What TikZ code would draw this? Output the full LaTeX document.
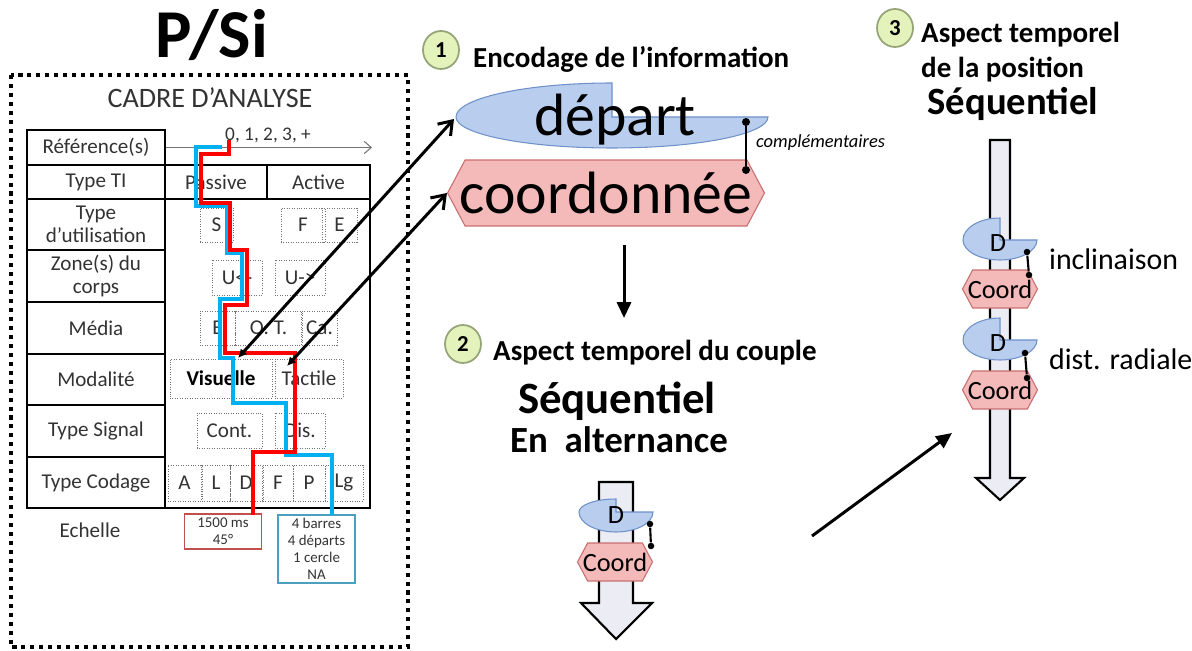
\documentclass[tikz,border=0pt]{standalone}
\usepackage{fontspec}
\setmainfont{Carlito}
\usetikzlibrary{arrows.meta,shapes.geometric,shapes.symbols}
\definecolor{psired}{RGB}{255,0,0}
\definecolor{psiblue}{RGB}{0,176,240}
\definecolor{depblue}{RGB}{185,205,238}
\definecolor{depedge}{RGB}{110,145,200}
\definecolor{coopink}{RGB}{244,185,185}
\definecolor{cooedge}{RGB}{200,110,110}
\definecolor{badgegreen}{RGB}{228,242,188}
\definecolor{badgeedge}{RGB}{150,165,120}
\definecolor{echred}{RGB}{192,80,77}
\definecolor{echblue}{RGB}{75,160,190}
\definecolor{flowgray}{RGB}{236,236,244}

\begin{document}
\begin{tikzpicture}[x=0.02cm, y=-0.02cm, every node/.style={font=\fontsize{12}{13}\selectfont, text=black!80}]
  \tikzset{
    cell/.style={draw=black, line width=1.1pt, minimum width=2.76cm, align=center, inner sep=0pt},
    opt/.style={draw=black!55, densely dotted, minimum height=0.68cm, inner sep=0pt},
    ech/.style={line width=0.9pt, minimum width=1.54cm, align=center, inner sep=0pt, font=\fontsize{8.5}{9.6}\selectfont},
    route/.style={line width=2.4pt},
    heading/.style={font=\fontsize{16.5}{19}\selectfont\bfseries, text=black},
    badge/.style={ellipse, draw=badgeedge, line width=1pt, fill=badgegreen, minimum width=0.72cm, minimum height=0.76cm, inner sep=0pt, font=\fontsize{13}{13}\selectfont\bfseries, text=black},
    hexa/.style={signal, signal to=west and east, signal pointer angle=124, fill=coopink, draw=cooedge, line width=0.6pt, inner sep=0pt, text=black},
    dfill/.style={fill=depblue, draw=depedge, line width=0.6pt},
    flow/.style={fill=flowgray, draw=black, line width=1.2pt},
    linkdot/.style={circle, fill=black, inner sep=0pt, minimum size=0.13cm},
    link/.style={line width=1.2pt},
    pointer/.style={line width=1.7pt, {Latex[length=5pt,width=5pt]}-{Straight Barb[length=7pt,width=10pt]}}
  }
  \useasboundingbox (0,0) rectangle (1192,651);

  % Cadre d'analyse
  \draw[line width=2.3pt, dash pattern=on 2.3pt off 2.8pt] (11,75) rectangle (408,647);
  \node[font=\fontsize{39}{40}\selectfont\bfseries, text=black, anchor=base] (title) at (212,58) {P/Si};
  \node[font=\fontsize{16}{17}\selectfont, anchor=base] (cadre) at (210,108) {CADRE D’ANALYSE};

  % Row labels
  \node[cell, minimum height=0.70cm] (ref) at (96,147.5) {Référence(s)};
  \node[cell, minimum height=0.68cm] (ti) at (96,182) {Type TI};
  \node[cell, minimum height=1.02cm] (use) at (96,224.5) {Type\\d’utilisation};
  \node[cell, minimum height=1.04cm] (zone) at (96,276) {Zone(s) du\\corps};
  \node[cell, minimum height=1.04cm] (media) at (96,328) {Média};
  \node[cell, minimum height=1.02cm] (moda) at (96,379.5) {Modalité};
  \node[cell, minimum height=1.04cm] (sig) at (96,431) {Type Signal};
  \node[cell, minimum height=1.02cm] (codage) at (96,482.5) {Type Codage};

  % Choices
  \node[cell, minimum width=2.04cm, minimum height=0.68cm] (passive) at (216,182) {Passive};
  \node[cell, minimum width=2.06cm, minimum height=0.68cm] (active) at (318.5,182) {Active};
  \node[cell, minimum width=4.10cm, minimum height=6.18cm] (choix) at (267.5,353.5) {};
  \coordinate (refend) at (372,147.5);
  \draw[black!55, line width=0.6pt, -{Straight Barb[length=4pt,width=7pt]}] (ref.east) -- (refend);
  \node[anchor=base, font=\fontsize{11}{11}\selectfont] (nums) at (268,141) {0, 1, 2, 3, +};

  \node[opt, minimum width=0.66cm] (s) at (216.5,225) {S};
  \node[opt, minimum width=0.88cm] (f) at (303,225) {F};
  \node[opt, minimum width=0.70cm] (e) at (339.5,225) {E};
  \node[opt, minimum width=1.00cm, minimum height=0.70cm] (ul) at (237,277.5) {U<-};
  \node[opt, minimum width=1.00cm, minimum height=0.70cm] (ur) at (300,277.5) {U->};
  \node[opt, minimum width=0.70cm] (et) at (217.5,328) {E};
  \node[opt, minimum width=1.32cm] (ot) at (268.5,328) {O. T.};
  \node[opt, minimum width=0.70cm] (ca) at (319.5,328) {Ca.};
  \node[opt, minimum width=2.04cm, minimum height=0.78cm, font=\fontsize{12}{13}\selectfont\bfseries, text=black] (vis) at (221,378.5) {Visuelle};
  \node[opt, minimum width=1.36cm, minimum height=0.78cm] (tac) at (309,378.5) {Tactile};
  \node[opt, minimum width=1.30cm, minimum height=0.70cm] (cont) at (229.5,430.5) {Cont.};
  \node[opt, minimum width=1.00cm, minimum height=0.70cm] (dis) at (300,430.5) {Dis.};
  \node[opt, minimum width=0.66cm, minimum height=0.72cm] (ca1) at (184.5,483) {A};
  \node[opt, minimum width=0.56cm, minimum height=0.72cm] (ca2) at (216,483) {L};
  \node[opt, minimum width=0.64cm, minimum height=0.72cm] (ca3) at (246,483) {D};
  \node[opt, minimum width=0.60cm, minimum height=0.72cm] (ca4) at (278,483) {F};
  \node[opt, minimum width=0.64cm, minimum height=0.72cm] (ca5) at (309,483) {P};
  \node[opt, minimum width=0.76cm, minimum height=0.72cm] (ca6) at (344,483) {Lg};

  % Echelle
  \node[anchor=base] (echelle) at (90,537) {Echelle};
  \node[ech, draw=echred, minimum height=0.70cm] (ech1) at (223,531.5) {1500 ms\\45°};
  \node[ech, draw=echblue, minimum height=1.36cm] (ech2) at (316.5,549) {4 barres\\4 départs\\1 cercle\\NA};

  % Routes
  \draw[route, psiblue] (222,147) -- (196,147) -- (196,206) -- (227,206) -- (227,253) -- (241.7,253) -- (241.7,299) -- (219.7,299) -- (219.7,358) -- (233,358) -- (233,403) -- (286,403) -- (286,455) -- (331.7,455) -- (331.7,515);
  \draw[route, psired] (229,140) -- (229,153.7) -- (201,153.7) -- (201,202.7) -- (230,202.7) -- (230,250) -- (247,250) -- (247,305) -- (224.7,305) -- (224.7,352.7) -- (294.7,352.7) -- (294.7,452) -- (253,452) -- (253,515);

  % 1 Encodage
  \node[badge] (b1) at (441,50) {1};
  \node[heading, anchor=base west] (enc) at (467,68) {Encodage de l’information};
  \filldraw[dfill] (612,117) -- (768,117) arc[start angle=0, end angle=180, x radius=156, y radius=31] arc[start angle=180, end angle=270, x radius=156, y radius=34] -- cycle;
  \node[font=\fontsize{34}{34}\selectfont, text=black] (dep) at (615,120) {départ};
  \node[hexa, minimum width=6.34cm, minimum height=1.32cm, font=\fontsize{34}{34}\selectfont] (coo) at (606,193) {\makebox[0pt]{coordonnée}};
  \node[linkdot, minimum size=0.16cm] (k1a) at (746,122) {};
  \node[linkdot, minimum size=0.16cm] (k1b) at (746,170) {};
  \draw[link] (k1a) -- (k1b);
  \node[anchor=base west, font=\fontsize{10.5}{11}\selectfont\itshape, text=black] (compl) at (750,148) {complémentaires};

  % Pointers from the table
  \coordinate (visA) at (238,358);
  \coordinate (tacA) at (287,366);
  \coordinate (depL) at (454,119);
  \draw[pointer] (visA) -- (depL);
  \draw[pointer] (tacA) -- (coo.west);

  % 2 Aspect temporel du couple
  \coordinate (downA) at (624,245);
  \coordinate (downB) at (624,318);
  \draw[line width=1.7pt, -{Triangle[length=9pt,width=8pt]}] (downA) -- (downB);
  \node[badge] (b2) at (463,344) {2};
  \node[heading, anchor=base west] (asp2) at (487,360) {Aspect temporel du couple};
  \node[font=\fontsize{25.5}{26}\selectfont\bfseries, text=black, anchor=base] (seq2) at (617,413) {Séquentiel};
  \node[font=\fontsize{21}{22}\selectfont\bfseries, text=black, anchor=base] (alt) at (619,452) {En\ \ alternance};
  \filldraw[flow] (599,482) -- (633,482) -- (633,603) -- (652,603) -- (616,639) -- (581,603) -- (599,603) -- cycle;
  \filldraw[dfill] (616,512) -- (653,512) arc[start angle=0, end angle=180, x radius=37, y radius=20] arc[start angle=180, end angle=270, x radius=37, y radius=13] -- cycle;
  \node[font=\fontsize{15}{15}\selectfont, text=black] (d2) at (616,515) {D};
  \node[hexa, minimum width=1.5cm, minimum height=0.76cm, font=\fontsize{15}{15}\selectfont] (c2) at (615,562) {\makebox[0pt]{Coord}};
  \node[linkdot] (k2a) at (650,524) {};
  \node[linkdot] (k2b) at (651,546) {};
  \draw[link] (k2a) -- (k2b);

  % 3 Aspect temporel de la position
  \coordinate (seqA) at (812,536);
  \coordinate (seqB) at (952,433);
  \draw[line width=1.7pt, -{Triangle[length=9pt,width=8pt]}] (seqA) -- (seqB);
  \node[badge] (b3) at (895,28) {3};
  \node[heading, anchor=base west] (asp3) at (915,43) {Aspect temporel};
  \node[heading, anchor=base west] (pos3) at (915,78) {de la position};
  \node[font=\fontsize{22}{23}\selectfont\bfseries, text=black, anchor=base] (seq3) at (1013,115) {Séquentiel};
  \filldraw[flow] (990,140) -- (1010,140) -- (1010,478) -- (1024,478) -- (1000,500) -- (976,478) -- (990,478) -- cycle;
  \filldraw[dfill] (1000,240) -- (1037,240) arc[start angle=0, end angle=180, x radius=37, y radius=20] arc[start angle=180, end angle=270, x radius=37, y radius=22] -- cycle;
  \node[font=\fontsize{15}{15}\selectfont, text=black] (d3a) at (998,243) {D};
  \node[hexa, minimum width=1.5cm, minimum height=0.76cm, font=\fontsize{15}{15}\selectfont] (c3a) at (1000,289) {\makebox[0pt]{Coord}};
  \node[linkdot] (k3a) at (1027,252) {};
  \node[linkdot] (k3b) at (1029,275) {};
  \draw[link] (k3a) -- (k3b);
  \node[anchor=base west, font=\fontsize{17}{17}\selectfont, text=black] (incl) at (1043,270) {inclinaison};
  \filldraw[dfill] (1000,340) -- (1037,340) arc[start angle=0, end angle=180, x radius=37, y radius=20] arc[start angle=180, end angle=270, x radius=37, y radius=22] -- cycle;
  \node[font=\fontsize{15}{15}\selectfont, text=black] (d3b) at (998,343) {D};
  \node[hexa, minimum width=1.5cm, minimum height=0.76cm, font=\fontsize{15}{15}\selectfont] (c3b) at (1000,390) {\makebox[0pt]{Coord}};
  \node[linkdot] (k3c) at (1025,353) {};
  \node[linkdot] (k3d) at (1027,378) {};
  \draw[link] (k3c) -- (k3d);
  \node[anchor=base west, font=\fontsize{17}{17}\selectfont, text=black] (rad) at (1043,370) {dist. radiale};
\end{tikzpicture}
\end{document}
